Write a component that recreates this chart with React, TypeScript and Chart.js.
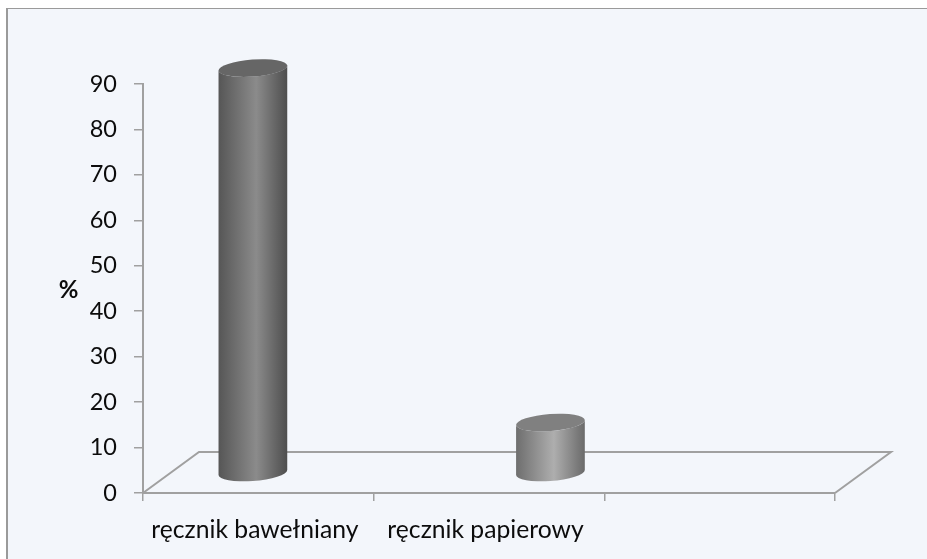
import { useEffect, useRef } from "react";
import { Chart, registerables } from "chart.js";

Chart.register(...registerables);

const categories = ["ręcznik bawełniany", "ręcznik papierowy", ""];
const cottonValues = [89, null, null];
const paperValues = [null, 11, null];
const yTicks = [0, 10, 20, 30, 40, 50, 60, 70, 80, 90];

const FONT = "Lato, 'Open Sans', sans-serif";
const AXIS = "#a0a0a0";
const INK = "#0c0c0c";

// Oblique floor depth of the pseudo-3D plot, in pixels.
const DEPTH_X = 56;
const DEPTH_Y = 41;
const TILT = -0.075;
const RY = 8.5;

const cylinderStyles = [
  { edge: "#565656", mid: "#8b8b8b", far: "#4e4e4e", cap: "#666666" },
  { edge: "#6e6e6e", mid: "#aeaeae", far: "#6a6a6a", cap: "#808080" },
];

const floorPlugin = {
  id: "floor",
  beforeDatasetsDraw(chart: any) {
    const { ctx, scales } = chart;
    const left = scales.x.left;
    const right = scales.x.right;
    const y0 = scales.y.getPixelForValue(0);
    ctx.save();
    ctx.strokeStyle = AXIS;
    ctx.lineWidth = 2;
    ctx.beginPath();
    ctx.moveTo(left, y0);
    ctx.lineTo(left + DEPTH_X, y0 - DEPTH_Y);
    ctx.lineTo(right + DEPTH_X, y0 - DEPTH_Y);
    ctx.lineTo(right, y0);
    ctx.stroke();
    ctx.restore();
  },
};

const cylinderPlugin = {
  id: "cylinders",
  afterDatasetsDraw(chart: any) {
    const { ctx } = chart;
    const y0 = chart.scales.y.getPixelForValue(0);
    chart.data.datasets.forEach((dataset: any, di: number) => {
      const style = cylinderStyles[di];
      chart.getDatasetMeta(di).data.forEach((bar: any, i: number) => {
        if (dataset.data[i] == null) return;
        const cx = bar.x + DEPTH_X / 2;
        const rx = bar.width / 2;
        const topY = bar.y - DEPTH_Y / 2;
        const botY = y0 - DEPTH_Y / 2;
        // Angle at which the tilted ellipse reaches its leftmost and rightmost x.
        const t = Math.atan((-(RY / rx)) * Math.tan(TILT));
        const halfW =
          rx * Math.cos(t) * Math.cos(TILT) - RY * Math.sin(t) * Math.sin(TILT);
        const g = ctx.createLinearGradient(cx - halfW, 0, cx + halfW, 0);
        g.addColorStop(0, style.edge);
        g.addColorStop(0.55, style.mid);
        g.addColorStop(1, style.far);
        ctx.save();
        ctx.fillStyle = g;
        ctx.beginPath();
        ctx.ellipse(cx, botY, rx, RY, TILT, t, t + Math.PI);
        ctx.ellipse(cx, topY, rx, RY, TILT, t + Math.PI, t, true);
        ctx.closePath();
        ctx.fill();
        ctx.fillStyle = style.cap;
        ctx.beginPath();
        ctx.ellipse(cx, topY, rx, RY, TILT, 0, Math.PI * 2);
        ctx.fill();
        ctx.restore();
      });
    });
  },
};

// The percent sign sits upright beside the value axis.
const unitLabelPlugin = {
  id: "unitLabel",
  afterDraw(chart: any) {
    const { ctx, scales } = chart;
    ctx.save();
    ctx.font = `bold 24px ${FONT}`;
    ctx.fillStyle = INK;
    ctx.textAlign = "center";
    ctx.textBaseline = "middle";
    ctx.fillText("%", 68.5, scales.y.getPixelForValue(44.7));
    ctx.restore();
  },
};

export default function App() {
  const ref = useRef<HTMLCanvasElement>(null);

  useEffect(() => {
    document.body.style.margin = "0";
    document.body.style.background = "#ffffff";
    const chart = new Chart(ref.current!, {
      type: "bar",
      data: {
        labels: categories,
        datasets: [
          {
            data: cottonValues,
            backgroundColor: "transparent",
            categoryPercentage: 0.58,
            barPercentage: 1.03,
          },
          {
            data: paperValues,
            backgroundColor: "transparent",
            categoryPercentage: 0.58,
            barPercentage: 1.03,
          },
        ],
      } as any,
      options: {
        responsive: false,
        animation: false,
        layout: { padding: { top: 84, right: 92, left: 0, bottom: 0 } },
        plugins: {
          legend: { display: false },
          tooltip: { enabled: false },
        },
        scales: {
          x: {
            afterFit: (s: any) => {
              s.height = 66;
            },
            grid: {
              drawOnChartArea: false,
              color: AXIS,
              lineWidth: 1.5,
              tickLength: 8,
            },
            border: { color: AXIS, width: 2 },
            ticks: {
              color: INK,
              font: { family: FONT, size: 24.7 },
              padding: 14,
              maxRotation: 0,
              autoSkip: false,
              labelOffset: -3.5,
            },
          },
          y: {
            min: 0,
            max: 90,
            afterFit: (s: any) => {
              s.width = 143;
            },
            afterBuildTicks: (s: any) => {
              s.ticks = yTicks.map((value) => ({ value }));
            },
            grid: {
              drawOnChartArea: false,
              color: AXIS,
              lineWidth: 1.5,
              tickLength: 9,
            },
            border: { color: AXIS, width: 2 },
            ticks: {
              color: INK,
              font: { family: FONT, size: 23.5 },
              padding: 17,
            },
          },
        },
      },
      plugins: [floorPlugin, cylinderPlugin, unitLabelPlugin],
    } as any);
    return () => chart.destroy();
  }, []);

  return (
    <div
      style={{
        position: "absolute",
        left: 6,
        top: 8,
        width: 921,
        height: 551,
        boxSizing: "border-box",
        background: "#f3f6fb",
        borderLeft: "2px solid #9a9a9a",
        borderTop: "1.5px solid #9a9a9a",
      }}
    >
      <canvas
        ref={ref}
        width={927}
        height={559}
        style={{ position: "absolute", left: -8, top: -9.5 }}
      />
    </div>
  );
}
